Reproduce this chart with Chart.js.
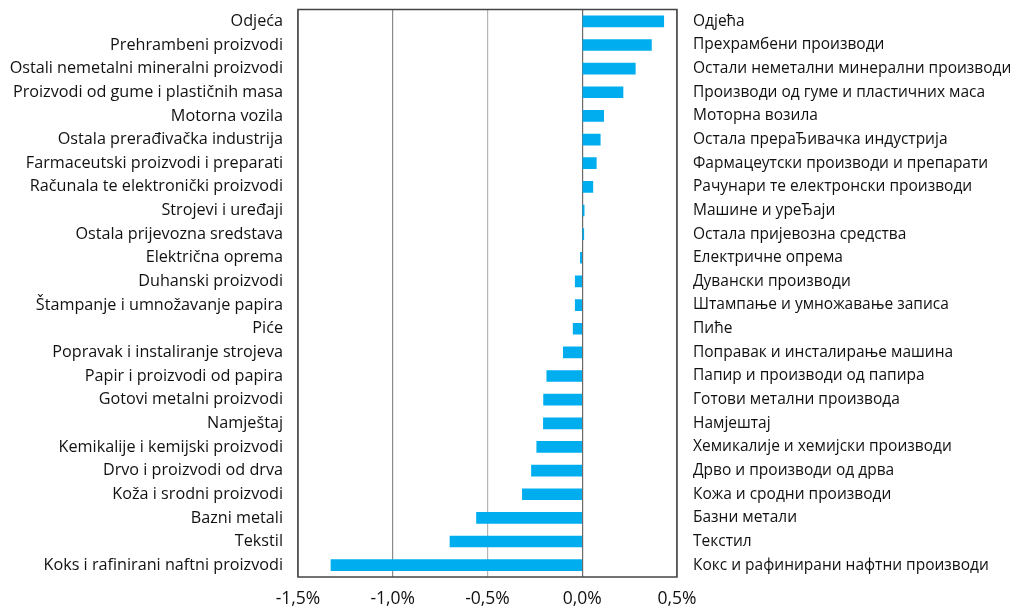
<!DOCTYPE html>
<html>
<head>
<meta charset="utf-8">
<script src="https://cdn.jsdelivr.net/npm/chart.js@4.4.1/dist/chart.umd.min.js"></script>
<style>
  html, body { margin: 0; padding: 0; background: #fff; }
  #wrap { width: 1014px; height: 612px; }
</style>
</head>
<body>
<div id="wrap"><canvas id="chart" width="1014" height="612"></canvas></div>
<script>
var latLabels = ["Odjeća", "Prehrambeni proizvodi", "Ostali nemetalni mineralni proizvodi",
  "Proizvodi od gume i plastičnih masa", "Motorna vozila", "Ostala prerađivačka industrija",
  "Farmaceutski proizvodi i preparati", "Računala te elektronički proizvodi", "Strojevi i uređaji",
  "Ostala prijevozna sredstava", "Električna oprema", "Duhanski proizvodi",
  "Štampanje i umnožavanje papira", "Piće", "Popravak i instaliranje strojeva",
  "Papir i proizvodi od papira", "Gotovi metalni proizvodi", "Namještaj",
  "Kemikalije i kemijski proizvodi", "Drvo i proizvodi od drva", "Koža i srodni proizvodi",
  "Bazni metali", "Tekstil", "Koks i rafinirani naftni proizvodi"];

var cyrLabels = ["Одјећа", "Прехрамбени производи", "Остали неметални минерални производи",
  "Производи од гуме и пластичних маса", "Моторна возила", "Остала прераЂивачка индустрија",
  "Фармацеутски производи и препарати", "Рачунари те електронски производи", "Машине и уреЂаји",
  "Остала пријевозна средства", "Електричне опрема", "Дувански производи",
  "Штампање и умножавање записа", "Пиће", "Поправак и инсталирање машина",
  "Папир и производи од папира", "Готови метални производа", "Намјештај",
  "Хемикалије и хемијски производи", "Дрво и производи од дрва", "Кожа и сродни производи",
  "Базни метали", "Текстил", "Кокс и рафинирани нафтни производи"];

// percent
var values = [0.43, 0.365, 0.28, 0.215, 0.113, 0.095, 0.074, 0.056, 0.01,
  0.008, -0.01, -0.037, -0.037, -0.048, -0.10, -0.187, -0.204, -0.205,
  -0.24, -0.268, -0.316, -0.558, -0.698, -1.326];

var xMin = -1.5, xMax = 0.5, xStep = 0.5;

var frame = {
  id: 'frame',
  afterDatasetsDraw: function(chart) {
    var a = chart.chartArea, c = chart.ctx;
    c.save();
    c.strokeStyle = '#444';
    c.lineWidth = 1.5;
    c.strokeRect(a.left, a.top, a.right - a.left, a.bottom - a.top);
    c.restore();
  }
};

var font = "'Open Sans', sans-serif";

new Chart("chart", {
  type: "bar",
  data: {
    labels: latLabels,
    datasets: [{
      data: values,
      backgroundColor: "#00AEEF",
      barThickness: 11,
      yAxisID: "y"
    }]
  },
  options: {
    indexAxis: "y",
    responsive: false,
    animation: false,
    layout: { padding: 0 },
    plugins: { legend: { display: false }, tooltip: { enabled: false } },
    scales: {
      x: {
        min: xMin, max: xMax,
        ticks: {
          stepSize: xStep,
          color: "#111",
          font: { family: font, size: 17.5 },
          padding: 12,
          callback: function(v) { return v.toFixed(1).replace(".", ",") + "%"; }
        },
        grid: {
          drawTicks: false,
          lineWidth: 1.2,
          color: function(ctx) {
            var v = ctx.tick && ctx.tick.value;
            if (Math.abs(v) < 1e-9) return "#6a6a6a";
            if (Math.abs(v + 0.5) < 1e-9) return "#b5b5b5";
            return "#8a8a8a";
          }
        },
        border: { display: false },
        afterFit: function(s) { s.height = 35; }
      },
      y: {
        type: "category",
        position: "left",
        ticks: { color: "#111", font: { family: font, size: 16.2 }, padding: 7 },
        grid: { display: false },
        border: { display: false },
        afterFit: function(s) { s.width = 298; s.paddingTop = 9.5; s.paddingBottom = 0; }
      },
      y2: {
        type: "category",
        position: "right",
        labels: cyrLabels,
        offset: true,
        ticks: { color: "#111", font: { family: font, size: 15.5 }, padding: 8 },
        grid: { display: false },
        border: { display: false },
        afterFit: function(s) { s.width = 337; s.paddingTop = 9.5; s.paddingBottom = 0; }
      }
    }
  },
  plugins: [frame]
});
</script>
</body>
</html>
